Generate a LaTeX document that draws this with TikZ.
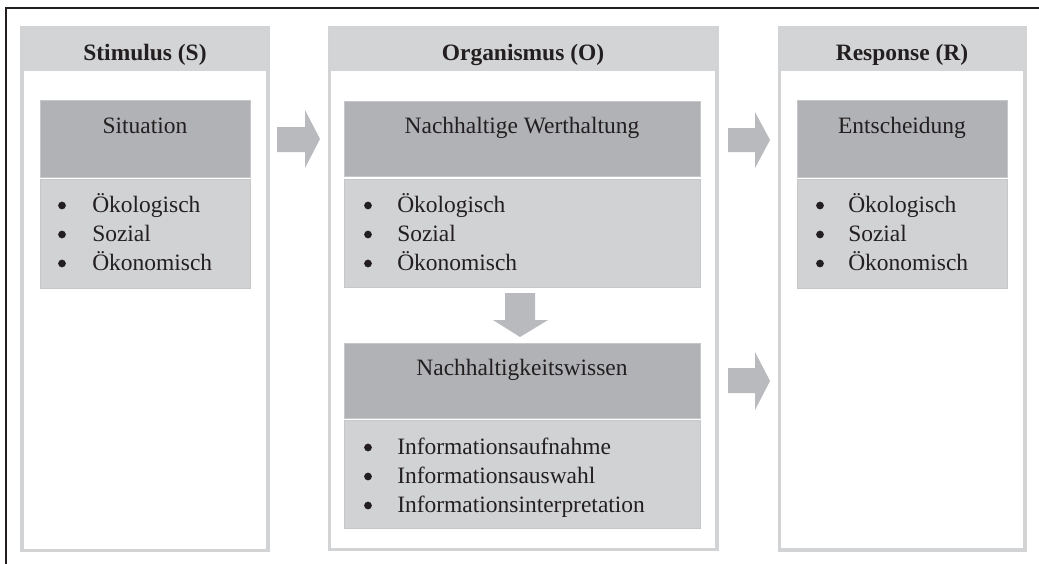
\documentclass[tikz,border=0pt]{standalone}
\usepackage{fontspec}
\setmainfont{Liberation Serif}
\definecolor{txt}{HTML}{231F20}
\definecolor{colframe}{HTML}{D2D3D5}
\definecolor{headfill}{HTML}{D3D4D6}
\definecolor{darkfill}{HTML}{B1B2B5}
\definecolor{lightfill}{HTML}{D1D2D4}
\definecolor{inframe}{HTML}{C6C7C9}
\definecolor{arrowfill}{HTML}{B9BABD}
\tikzset{
  lbl/.style={text=txt, inner sep=0pt, font=\fontsize{17.6}{21}\selectfont},
  headlbl/.style={lbl, font=\fontsize{17.6}{21}\selectfont\bfseries, anchor=base},
  titlelbl/.style={lbl, anchor=base},
  itemlbl/.style={lbl, anchor=base west},
  colbox/.style={draw=colframe, line width=2.6pt},
  darkbox/.style={fill=darkfill, draw=inframe, line width=0.75pt},
  lightbox/.style={fill=lightfill, draw=inframe, line width=0.75pt},
  blockarrow/.style={fill=arrowfill, draw=none},
}
% #1 name, #2 bullet x, #3 text x, #4 baseline y, #5 text
\newcommand\listline[5]{%
  \fill[txt] (#2,#4-6.5) circle (2.9pt);
  \node[itemlbl] (#1) at (#3,#4) {#5};%
}
\begin{document}
\begin{tikzpicture}[x=0.75pt,y=-0.75pt]
\path[use as bounding box, fill=white] (0,0) rectangle (1039,564);
% outer frame (top and left)
\draw[txt, line width=1.5pt] (6,564) -- (6,8) -- (1039,8);

% ---------- column S ----------
\fill[headfill] (22,28) rectangle (268,71);
\draw[colbox] (22,28) rectangle (268,550.5);
\node[headlbl] (hS) at (145,60) {Stimulus (S)};
\draw[darkbox] (40,100) rectangle (250,177);
\draw[lightbox] (40,179) rectangle (250,288);
\node[titlelbl] (sit) at (145,133) {Situation};
\listline{s1}{62}{92}{212}{Ökologisch}
\listline{s2}{62}{92}{241}{Sozial}
\listline{s3}{62}{92}{270}{Ökonomisch}

% ---------- column O ----------
\fill[headfill] (329.5,28) rectangle (717,71);
\draw[colbox] (329.5,28) rectangle (717,549.5);
\node[headlbl] (hO) at (523,60) {Organismus (O)};
\draw[darkbox] (344,101) rectangle (700,176);
\draw[lightbox] (344,179) rectangle (700,287);
\node[titlelbl] (wert) at (522,133) {Nachhaltige Werthaltung};
\listline{o1}{368}{397}{212}{Ökologisch}
\listline{o2}{368}{397}{241}{Sozial}
\listline{o3}{368}{397}{270}{Ökonomisch}
\draw[darkbox] (344,343) rectangle (700,418);
\draw[lightbox] (344,420) rectangle (700,528);
\node[titlelbl] (wissen) at (522,375) {Nachhaltigkeitswissen};
\listline{w1}{368}{397}{454}{Informationsaufnahme}
\listline{w2}{368}{397}{483}{Informationsauswahl}
\listline{w3}{368}{397}{512}{Informationsinterpretation}

% ---------- column R ----------
\fill[headfill] (779.5,28) rectangle (1025,71);
\draw[colbox] (779.5,28) rectangle (1025,550);
\node[headlbl] (hR) at (902,60) {Response (R)};
\draw[darkbox] (797,100) rectangle (1007,177);
\draw[lightbox] (797,179) rectangle (1007,288);
\node[titlelbl] (ent) at (902,133) {Entscheidung};
\listline{r1}{820}{848}{212}{Ökologisch}
\listline{r2}{820}{848}{241}{Sozial}
\listline{r3}{820}{848}{270}{Ökonomisch}

% ---------- block arrows ----------
\fill[blockarrow] (277,127) -- (305,127) -- (305,110) -- (320,139) -- (305,168) -- (305,152) -- (277,152) -- cycle;
\fill[blockarrow] (728,128) -- (755,128) -- (755,112) -- (770,140) -- (755,168) -- (755,152) -- (728,152) -- cycle;
\fill[blockarrow] (728,368) -- (755,368) -- (755,352) -- (770,381) -- (755,410) -- (755,393) -- (728,393) -- cycle;
\fill[blockarrow] (505,293) -- (535,293) -- (535,320) -- (548,320) -- (520,337) -- (493,320) -- (505,320) -- cycle;
\end{tikzpicture}
\end{document}
